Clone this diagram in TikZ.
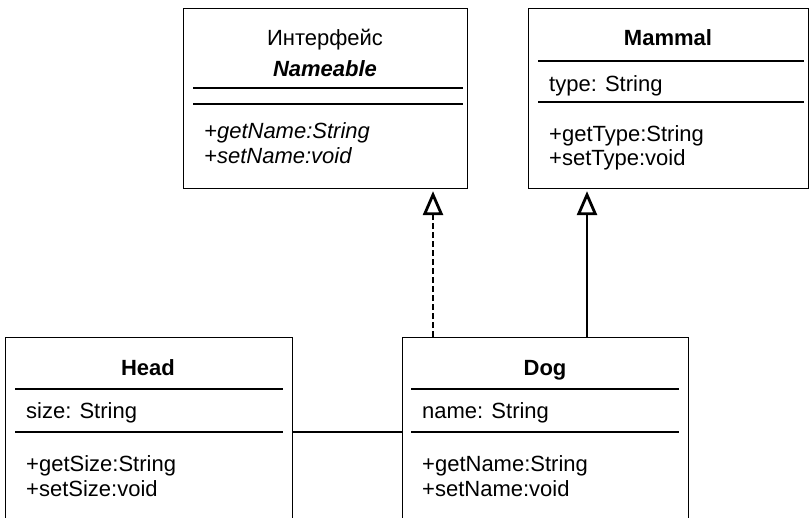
\documentclass[tikz,border=0pt]{standalone}
\usepackage{fontspec}
\setmainfont{Liberation Sans}
\usetikzlibrary{arrows.meta}
\begin{document}
\begin{tikzpicture}[x=1pt,y=-1pt,
  umlbox/.style={draw, line width=1.15pt, rectangle, inner sep=0pt, anchor=north west},
  sepline/.style={line width=1.15pt},
  txt/.style={inner sep=0pt, font=\fontsize{22}{26}\selectfont, anchor=base west},
  ttl/.style={inner sep=0pt, font=\fontsize{22}{26}\selectfont, anchor=base},
  realize/.style={-{Triangle[open, length=24pt, width=20pt, line width=2.8pt]}, line width=1.15pt},
  assoc/.style={line width=1.15pt}
]
\clip (0,0) rectangle (811,517);
% boxes
\node[umlbox, minimum width=284pt, minimum height=180pt] (nameable) at (183,8) {};
\node[umlbox, minimum width=280pt, minimum height=180pt] (mammal) at (528,8) {};
\node[umlbox, minimum width=287pt, minimum height=200pt] (head) at (5,337) {};
\node[umlbox, minimum width=286pt, minimum height=200pt] (dog) at (402,337) {};
% Nameable
\node[ttl] (nt1) at (325,45) {Интерфейс};
\node[ttl, font=\fontsize{22}{26}\selectfont\bfseries\itshape] (nt2) at (325,76) {Nameable};
\draw[sepline] (193,88) -- (463,88);
\draw[sepline] (193,104) -- (463,104);
\node[txt, font=\fontsize{22}{26}\selectfont\itshape] (nm1) at (204,138) {+getName:String};
\node[txt, font=\fontsize{22}{26}\selectfont\itshape] (nm2) at (204,163) {+setName:void};
% Mammal
\node[ttl, font=\fontsize{22}{26}\selectfont\bfseries] (mt) at (668,45) {Mammal};
\draw[sepline] (538,61) -- (804,61);
\node[txt] (ma) at (549,91) {type: String};
\draw[sepline] (538,102) -- (804,102);
\node[txt] (mm1) at (549,141) {+getType:String};
\node[txt] (mm2) at (549,165) {+setType:void};
% Head
\node[ttl, font=\fontsize{22}{26}\selectfont\bfseries] (ht) at (148,375) {Head};
\draw[sepline] (15,389) -- (283,389);
\node[txt] (ha) at (26,418) {size: String};
\draw[sepline] (15,432) -- (283,432);
\node[txt] (hm1) at (26,471) {+getSize:String};
\node[txt] (hm2) at (26,496) {+setSize:void};
% Dog
\node[ttl, font=\fontsize{22}{26}\selectfont\bfseries] (dt) at (545,375) {Dog};
\draw[sepline] (411,389) -- (679,389);
\node[txt] (da) at (422,418) {name: String};
\draw[sepline] (411,432) -- (679,432);
\node[txt] (dm1) at (422,471) {+getName:String};
\node[txt] (dm2) at (422,496) {+setName:void};
% connectors
\coordinate (xa) at (433,0);
\coordinate (xb) at (587,0);
\coordinate (ya) at (0,432);
\draw[realize, dash pattern=on 6pt off 3pt] (dog.north -| xa) -- ([yshift=-2pt]nameable.south -| xa);
\draw[realize] (dog.north -| xb) -- ([yshift=-2pt]mammal.south -| xb);
\draw[assoc] (head.east |- ya) -- (dog.west |- ya);
\end{tikzpicture}
\end{document}
